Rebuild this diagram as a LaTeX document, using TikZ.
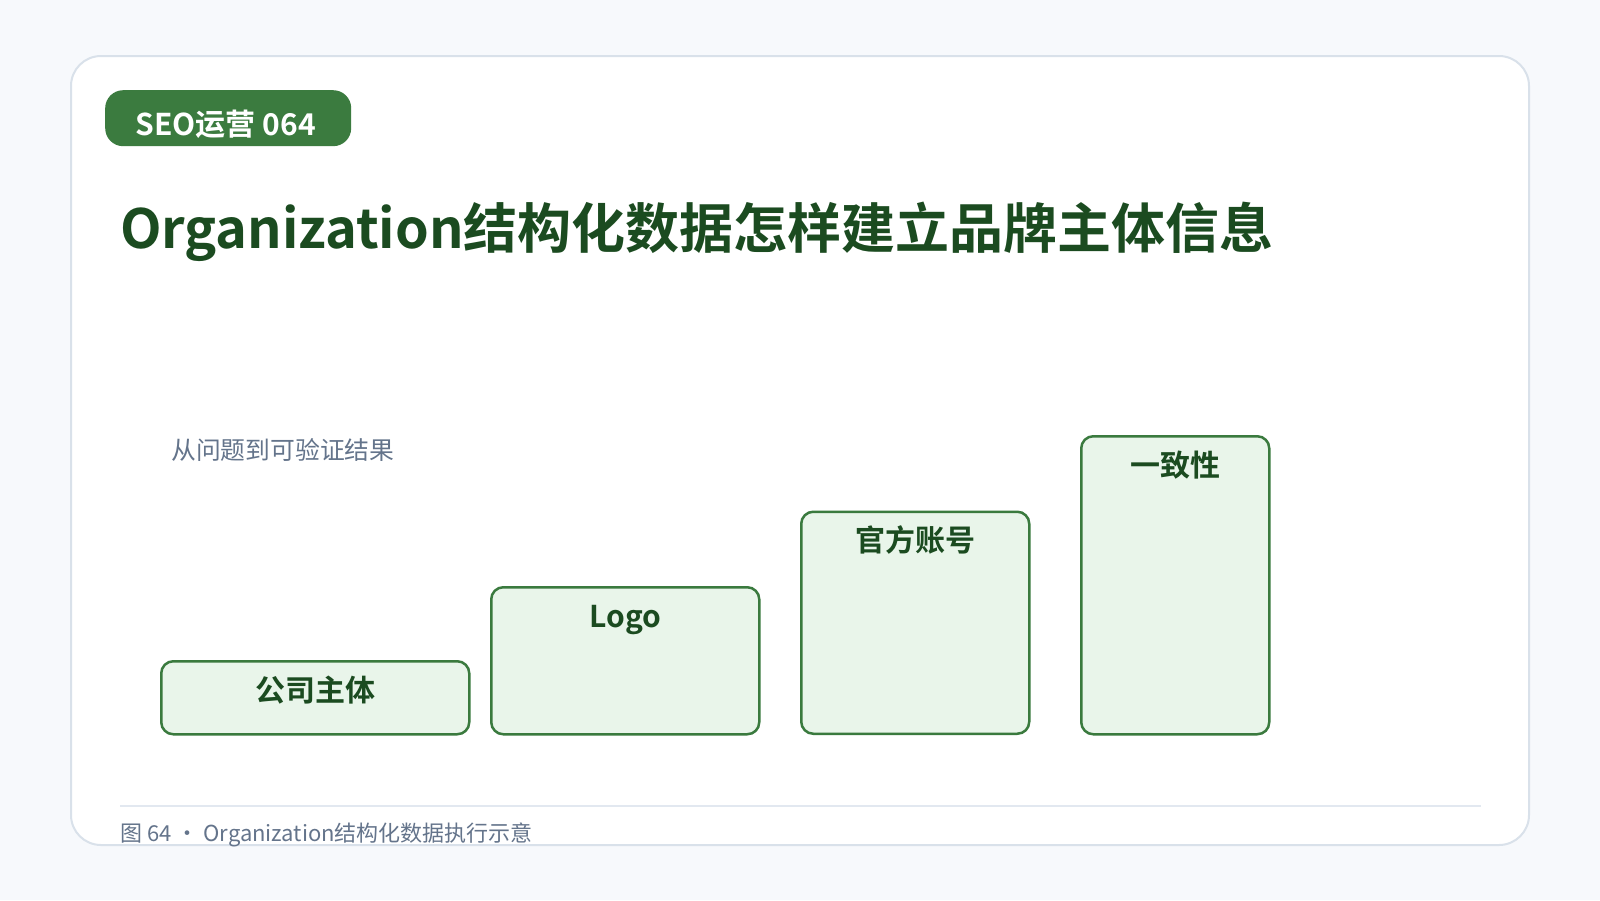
\documentclass[tikz,border=0pt]{standalone}
\usepackage{fontspec}
\setmainfont{Noto Sans CJK SC}
\newfontfamily\cjk{Noto Sans CJK SC}
\newfontfamily\cjkb{Noto Sans CJK SC Bold}
\definecolor{bgcol}{HTML}{F7F9FC}
\definecolor{cardline}{HTML}{D9E1EA}
\definecolor{badgecol}{HTML}{3B7B3F}
\definecolor{titlecol}{HTML}{1B4B20}
\definecolor{graytext}{HTML}{64748B}
\definecolor{boxfill}{HTML}{E9F5EA}
\definecolor{boxline}{HTML}{3A7A3E}
\definecolor{rulecol}{HTML}{E2E8F0}
\tikzset{
  stepbox/.style={draw=boxline, fill=boxfill, line width=2.5pt, rounded corners=12pt, anchor=north west, inner sep=0pt},
  steplabel/.style={anchor=base, inner sep=0pt, text=titlecol, font=\cjkb\fontsize{30}{32}\selectfont},
  txt/.style={inner sep=0pt, anchor=base west}
}
\begin{document}
\begin{tikzpicture}[x=1pt,y=-1pt]
\useasboundingbox (0,0) rectangle (1600,900);
\fill[bgcol] (0,0) rectangle (1600,900);
\draw[cardline, line width=2pt, fill=white, rounded corners=30pt] (71,56) rectangle (1529,845);
% badge
\node[fill=badgecol, rounded corners=18pt, minimum width=246pt, minimum height=56pt, anchor=north west, inner sep=0pt] (badge) at (105,90) {};
\node[txt, text=white, font=\cjkb\fontsize{30}{32}\selectfont] (badgetxt) at (135.5,135) {SEO运营 064};
% title
\node[txt, text=titlecol, font=\cjkb\fontsize{54}{60}\selectfont] (title) at (120,248) {Organization结构化数据怎样建立品牌主体信息};
% subtitle
\node[txt, text=graytext, font=\cjk\fontsize{24.8}{28}\selectfont] (sub) at (171,459) {从问题到可验证结果};
% boxes
\node[stepbox, minimum width=308pt, minimum height=73pt] (b1) at (160,660) {};
\node[stepbox, minimum width=268pt, minimum height=147pt] (b2) at (490,586) {};
\node[stepbox, minimum width=228pt, minimum height=222pt] (b3) at (800,510.5) {};
\node[stepbox, minimum width=188pt, minimum height=298pt] (b4) at (1080,435) {};
\node[steplabel] (l1) at ([yshift=-41pt]b1.north) {公司主体};
\node[steplabel] (l2) at ([yshift=-41pt]b2.north) {Logo};
\node[steplabel] (l3) at ([yshift=-41pt]b3.north) {官方账号};
\node[steplabel] (l4) at ([yshift=-41pt]b4.north) {一致性};
% footer
\coordinate (fl) at (120,806);
\coordinate (fr) at (1481,806);
\draw[rulecol, line width=2pt] (fl) -- (fr);
\node[txt, text=graytext, font=\cjk\fontsize{22}{26}\selectfont] (foot) at (120,841) {图 64 · Organization结构化数据执行示意};
\end{tikzpicture}
\end{document}
